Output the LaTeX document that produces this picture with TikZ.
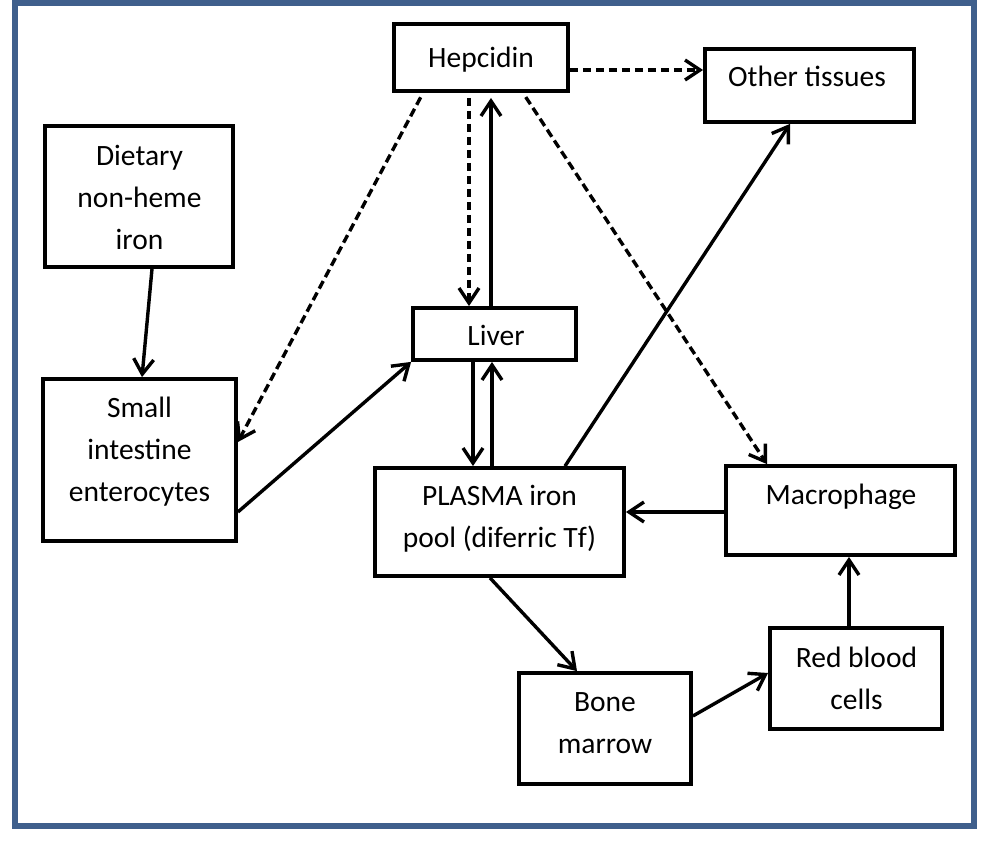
\documentclass[tikz,border=0pt]{standalone}
\usepackage{fontspec}
\setmainfont{Carlito}
\usetikzlibrary{arrows.meta}
\definecolor{frameblue}{HTML}{3F5F8C}
\newcommand{\mlines}[1]{\begin{tabular}[t]{@{}c@{}}#1\end{tabular}}
\begin{document}
\begin{tikzpicture}[x=1pt,y=-1pt,
  box/.style={draw, line width=3.8pt, inner sep=0pt},
  txt/.style={font=\fontsize{29.5}{42}\selectfont, anchor=base, inner sep=0pt},
  conn/.style={line width=3.4pt, -{Straight Barb[length=15pt,width=20pt]}},
  dsh/.style={conn, dash pattern=on 8.5pt off 4.5pt}]
\useasboundingbox (0,0) rectangle (981,853);
\draw[frameblue, line width=6pt] (15,3) rectangle (974,826);

% boxes
\node[box, minimum width=174pt, minimum height=67pt]  (hep)    at (481,57.5) {};
\node[box, minimum width=209pt, minimum height=73pt]  (other)  at (809.5,85.5) {};
\node[box, minimum width=188pt, minimum height=141pt] (diet)   at (139,196.5) {};
\node[box, minimum width=163pt, minimum height=52pt]  (liver)  at (494.5,334) {};
\node[box, minimum width=193pt, minimum height=162pt] (si)     at (139.5,460) {};
\node[box, minimum width=249pt, minimum height=108pt] (plasma) at (499.5,522) {};
\node[box, minimum width=229pt, minimum height=89pt]  (macro)  at (840.5,510.5) {};
\node[box, minimum width=172pt, minimum height=101pt] (rbc)    at (856,678.5) {};
\node[box, minimum width=172pt, minimum height=111pt] (bone)   at (605,728.5) {};

% texts
\node[txt] (hepT)    at (481,68)   {Hepcidin};
\node[txt] (otherT)  at (807,87)   {Other tissues};
\node[txt] (dietT)   at (139.5,165) {\mlines{Dietary\\non-heme\\iron}};
\node[txt] (liverT)  at (496,345)  {Liver};
\node[txt] (siT)     at (139.5,417) {\mlines{Small\\intestine\\enterocytes}};
\node[txt] (plasmaT) at (499.5,505) {\mlines{PLASMA iron\\pool (diferric Tf)}};
\node[txt] (macroT)  at (841,504)  {Macrophage};
\node[txt] (rbcT)    at (856.5,667) {\mlines{Red blood\\cells}};
\node[txt] (boneT)   at (605,711)  {\mlines{Bone\\marrow}};

% connectors
\draw[dsh] ([yshift=-12.5pt]hep.east) -- ([yshift=-12.5pt]hep.east -| other.west);
\draw[dsh, shorten <=5pt] ([xshift=-12pt]hep.south) -- ([xshift=-12pt]hep.south |- liver.north);
\draw[conn, shorten >=5pt] ([xshift=10pt]hep.south |- liver.north) -- ([xshift=10pt]hep.south);
\draw[dsh, shorten <=5pt] ([xshift=-58pt]hep.south) -- ([yshift=18pt]si.east);
\draw[dsh, shorten <=5pt] ([xshift=42pt]hep.south) -- ([xshift=-73.5pt]macro.north);
\draw[conn] ([xshift=13pt]diet.south) -- ([xshift=2.5pt]si.north);
\draw[conn] ([yshift=-52pt]si.east) -- (liver.south west);
\draw[conn] ([xshift=-21.5pt]liver.south) -- ([xshift=-21.5pt]plasma.north -| liver.south);
\draw[conn] ([xshift=-2.5pt]plasma.north -| liver.south) -- ([xshift=-2.5pt]liver.south);
\draw[conn] ([xshift=65.5pt]plasma.north) -- ([xshift=-19.5pt]other.south);
\draw[conn] ([yshift=-1.5pt]macro.west) -- ([yshift=-1.5pt]macro.west -| plasma.east);
\draw[conn] ([xshift=-9.5pt]plasma.south) -- ([xshift=-28pt]bone.north);
\draw[conn] ([yshift=12.5pt]bone.east) -- ([yshift=5.5pt]rbc.west);
\draw[conn] ([xshift=-7pt]rbc.north) -- ([xshift=-7pt]macro.south -| rbc.north);
\end{tikzpicture}
\end{document}
